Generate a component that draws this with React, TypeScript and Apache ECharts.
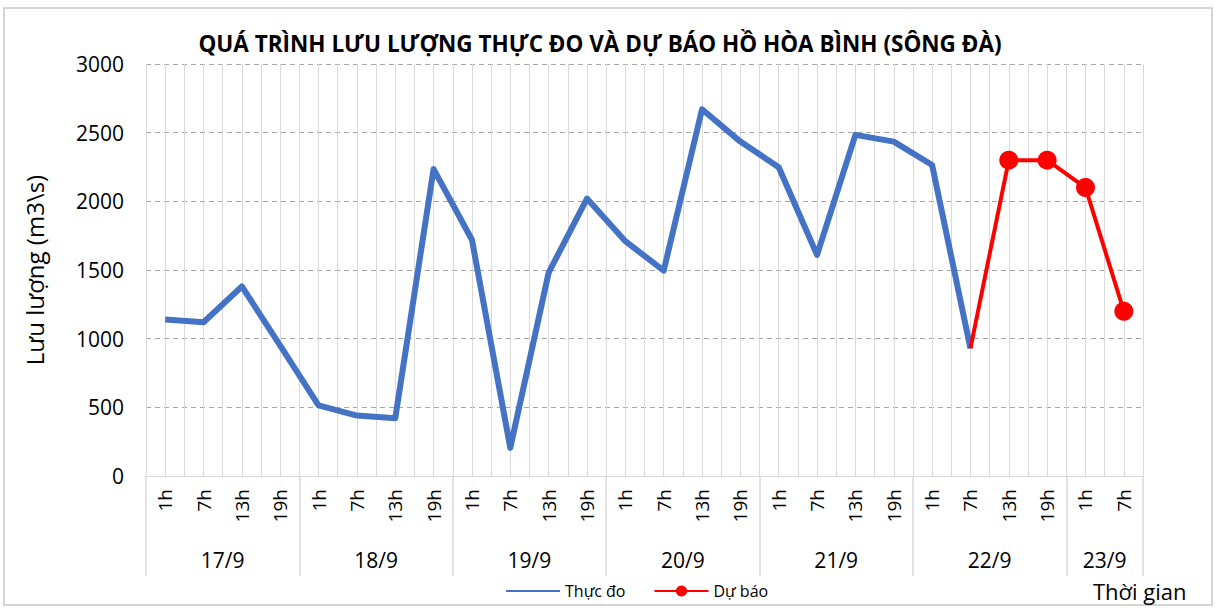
import React, { useEffect, useRef } from "react";
import * as echarts from "echarts";

const TITLE = "QUÁ TRÌNH LƯU LƯỢNG THỰC ĐO VÀ DỰ BÁO HỒ HÒA BÌNH (SÔNG ĐÀ)";
const Y_NAME = "Lưu lượng (m3\\s)";
const X_NAME = "Thời gian";
const DAYS = ["17/9", "18/9", "19/9", "20/9", "21/9", "22/9", "23/9"];
const HOURS_PER_DAY = [4, 4, 4, 4, 4, 4, 2];
const HOUR_LABELS = ["1h", "7h", "13h", "19h"];
const SERIES_NAMES = ["Thực đo", "Dự báo"];
const MEASURED = [
  1140, 1120, 1380, 950, 515, 440, 420, 2235, 1720, 205, 1480, 2020, 1710,
  1495, 2670, 2435, 2248, 1610, 2484, 2435, 2265, 930, null, null, null, null,
];
const FORECAST_START = 21;
const FORECAST = [930, 2300, 2300, 2100, 1200];
const Y_TICKS = { min: 0, max: 3000, interval: 500 };

const FONT = "'Open Sans', 'Noto Sans', sans-serif";

export default function App() {
  const ref = useRef<HTMLDivElement>(null);
  useEffect(() => {
    if (!ref.current) return;
    const chart = echarts.init(ref.current, undefined, { renderer: "svg" });

    const categories: string[] = [];
    DAYS.forEach((d, i) => {
      for (let h = 0; h < HOURS_PER_DAY[i]; h++) categories.push(HOUR_LABELS[h]);
    });
    const n = categories.length;
    const dayAxis: string[] = new Array(2 * n + 1).fill("");
    const boundaries: number[] = [0];
    let start = 0;
    DAYS.forEach((d, i) => {
      const cnt = HOURS_PER_DAY[i] * 2;
      dayAxis[start + cnt / 2] = d;
      start += cnt;
      boundaries.push(start);
    });
    const halfCats = new Array(2 * n).fill("").map((_, i) => String(i));

    const forecastData: any[] = new Array(n).fill(null);
    FORECAST.forEach((v, i) => {
      forecastData[FORECAST_START + i] = i === 0 ? { value: v, symbol: "none" } : v;
    });

    chart.setOption({
      animation: false,
      backgroundColor: "#ffffff",
      textStyle: { fontFamily: FONT },
      title: {
        text: TITLE,
        left: 595,
        textAlign: "center",
        top: 27,
        textStyle: { fontSize: 22.5, fontWeight: "bold", color: "#000", fontFamily: FONT },
      },
      grid: { left: 146, right: 72, top: 64, bottom: 132 },
      legend: {
        left: 500,
        top: 578,
        itemWidth: 54,
        itemHeight: 14,
        itemGap: 28,
        textStyle: { fontSize: 16, color: "#000", fontFamily: FONT },
        data: [
          { name: SERIES_NAMES[0], itemStyle: { opacity: 0 } },
          { name: SERIES_NAMES[1] },
        ],
      },
      xAxis: [
        {
          type: "category",
          data: categories,
          boundaryGap: true,
          position: "bottom",
          offset: 0,
          axisLine: { show: true, lineStyle: { color: "#d9d9d9", width: 1 } },
          axisTick: { show: false },
          axisLabel: {
            interval: 0,
            rotate: 90,
            margin: 13,
            fontSize: 19,
            color: "#000",
            fontFamily: FONT,
          },
          splitLine: { show: false },
        },
        {
          type: "category",
          data: dayAxis,
          boundaryGap: false,
          position: "bottom",
          offset: 0,
          axisLine: { show: false },
          axisTick: {
            show: true,
            length: 100,
            interval: (idx: number) => boundaries.includes(idx),
            lineStyle: { color: "#d9d9d9", width: 1.5 },
          },
          axisLabel: {
            interval: 0,
            margin: 73,
            fontSize: 21,
            lineHeight: 22,
            color: "#000",
            fontFamily: FONT,
          },
          splitLine: { show: false },
        },
        {
          type: "category",
          data: halfCats,
          boundaryGap: true,
          position: "top",
          show: true,
          axisLine: { show: false },
          axisTick: { show: false },
          axisLabel: { show: false },
          splitLine: {
            show: true,
            interval: 0,
            lineStyle: { color: "#d9d9d9", width: 1 },
          },
        },
      ],
      yAxis: {
        type: "value",
        min: Y_TICKS.min,
        max: Y_TICKS.max,
        interval: Y_TICKS.interval,
        name: Y_NAME,
        nameLocation: "middle",
        nameGap: 100,
        nameRotate: 90,
        nameTextStyle: { fontSize: 24, color: "#000", fontFamily: FONT },
        axisLine: { show: false },
        axisTick: { show: false },
        axisLabel: {
          fontSize: 21,
          color: "#000",
          margin: 22,
          fontFamily: FONT,
          formatter: (v: number) => String(v),
        },
        splitLine: {
          show: true,
          lineStyle: { color: "#a6a6a6", type: [5, 4], width: 1 },
        },
      },
      graphic: [
        {
          type: "rect",
          shape: { x: 4, y: 8, width: 1208, height: 597 },
          style: { fill: "none", stroke: "#c8c8c8", lineWidth: 1.5 },
          silent: true,
          z: -10,
        },
        {
          type: "text",
          left: 1093,
          top: 579,
          style: { text: X_NAME, fontSize: 22, lineHeight: 24, fill: "#000", fontFamily: FONT },
        },
      ],
      series: [
        {
          name: SERIES_NAMES[0],
          type: "line",
          xAxisIndex: 0,
          data: MEASURED,
          symbol: "none",
          lineStyle: { color: "#4472C4", width: 6, join: "round" },
          itemStyle: { color: "#4472C4" },
          z: 3,
        },
        {
          name: SERIES_NAMES[1],
          type: "line",
          xAxisIndex: 0,
          data: forecastData,
          symbol: "circle",
          symbolSize: 19,
          lineStyle: { color: "#FF0000", width: 4 },
          itemStyle: { color: "#FF0000" },
          z: 4,
        },
      ],
    });
    return () => chart.dispose();
  }, []);
  return (
    <div
      ref={ref}
      style={{ position: "fixed", left: 0, top: 0, width: 1215, height: 608 }}
    />
  );
}
